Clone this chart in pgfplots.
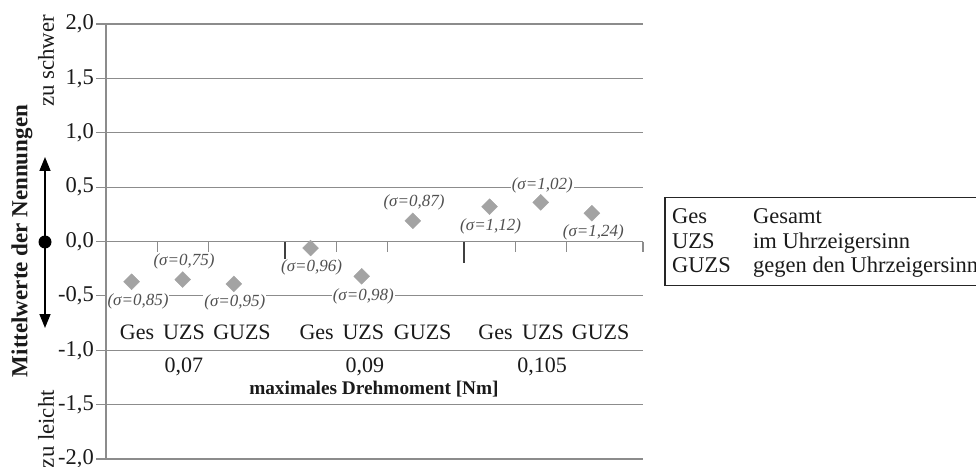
\documentclass[border=0pt]{standalone}
\usepackage{fontspec}
\setmainfont{Liberation Serif}
\usepackage{pgfplots}
\pgfplotsset{compat=1.18}
\usetikzlibrary{arrows.meta}
\definecolor{gridgray}{HTML}{8C8C8C}
\definecolor{markgray}{HTML}{A3A3A3}
\definecolor{siggray}{HTML}{505050}
\definecolor{txt}{HTML}{1A1A1A}
\pgfplotstableread{
x y
0.5 -0.37
1.5 -0.35
2.5 -0.39
4.0 -0.06
5.0 -0.32
6.0 0.19
7.5 0.32
8.5 0.36
9.5 0.26
}\means
\begin{document}
\begin{tikzpicture}
\begin{scope}
\clip (0,0) rectangle (976pt,466pt);
\begin{axis}[
  at={(106pt,7pt)}, anchor=south west,
  x=51.14pt, y=108.75pt,
  xmin=0, xmax=10.5, ymin=-2, ymax=2,
  axis x line=none, axis y line*=left,
  y axis line style={gridgray, line width=1.2pt, -},
  ytick={-2,-1.5,-1,-0.5,0,0.5,1,1.5,2},
  yticklabels={{-2,0},{-1,5},{-1,0},{-0,5},{0,0},{0,5},{1,0},{1,5},{2,0}},
  ymajorgrids, grid style={gridgray, line width=1.2pt},
  tick align=outside, major tick length=10pt,
  ytick style={gridgray, line width=1.2pt},
  yticklabel style={font=\fontsize{22.5}{26}\selectfont, text=txt, inner sep=2pt},
  clip=false,
]
\addplot[only marks, mark=square*, mark size=5.6pt, mark options={rotate=45, fill=markgray, draw=markgray}] table[x=x,y=y] {\means};
% category ticks
\draw[gridgray, line width=1.2pt] (axis cs:1,0) -- (axis cs:1,-0.1);
\draw[gridgray, line width=1.2pt] (axis cs:2,0) -- (axis cs:2,-0.1);
\draw[gridgray, line width=1.2pt] (axis cs:4.5,0) -- (axis cs:4.5,-0.1);
\draw[gridgray, line width=1.2pt] (axis cs:5.5,0) -- (axis cs:5.5,-0.1);
\draw[gridgray, line width=1.2pt] (axis cs:8,0) -- (axis cs:8,-0.1);
\draw[gridgray, line width=1.2pt] (axis cs:9,0) -- (axis cs:9,-0.1);
\draw[gridgray, line width=1.2pt] (axis cs:10.5,0) -- (axis cs:10.5,-0.1);
\draw[black!75, line width=1.6pt] (axis cs:3.5,0) -- (axis cs:3.5,-0.2);
\draw[black!75, line width=1.6pt] (axis cs:7,0) -- (axis cs:7,-0.2);
% sigma labels
\tikzset{sig/.style={fill=white, inner xsep=1pt, inner ysep=1pt, text=siggray, font=\itshape\fontsize{17}{20}\selectfont}}
\node[sig] at (axis cs:0.626,-0.552) {(σ=0,85)};
\node[sig] at (axis cs:1.525,-0.184) {(σ=0,75)};
\node[sig] at (axis cs:2.52,-0.561) {(σ=0,95)};
\node[sig] at (axis cs:4.02,-0.237) {(σ=0,96)};
\node[sig] at (axis cs:5.031,-0.503) {(σ=0,98)};
\node[sig] at (axis cs:6.022,0.356) {(σ=0,87)};
\node[sig] at (axis cs:7.522,0.135) {(σ=1,12)};
\node[sig] at (axis cs:8.531,0.517) {(σ=1,02)};
\node[sig] at (axis cs:9.529,0.085) {(σ=1,24)};
% category labels
\tikzset{cat/.style={anchor=base, inner sep=0pt, text=txt, font=\fontsize{22}{26}\selectfont}}
\node[cat] at (axis cs:0.606,-0.905) {Ges};
\node[cat] at (axis cs:1.525,-0.905) {UZS};
\node[cat] at (axis cs:2.659,-0.905) {GUZS};
\node[cat] at (axis cs:4.12,-0.905) {Ges};
\node[cat] at (axis cs:5.031,-0.905) {UZS};
\node[cat] at (axis cs:6.193,-0.905) {GUZS};
\node[cat] at (axis cs:7.617,-0.905) {Ges};
\node[cat] at (axis cs:8.545,-0.905) {UZS};
\node[cat] at (axis cs:9.673,-0.905) {GUZS};
\node[cat] at (axis cs:1.525,-1.205) {0,07};
\node[cat] at (axis cs:5.06,-1.205) {0,09};
\node[cat] at (axis cs:8.526,-1.205) {0,105};
\node[cat, font=\bfseries\fontsize{19.3}{23}\selectfont] at (axis cs:5.24,-1.41) {maximales Drehmoment [Nm]};
\end{axis}
% y label and side annotations
\node[rotate=90, text=txt, font=\bfseries\fontsize{23}{27}\selectfont] at (22pt,225pt) {Mittelwerte der Nennungen};
\node[rotate=90, anchor=east, inner sep=0pt, text=txt, font=\fontsize{22.8}{26}\selectfont] at (46pt,451pt) {zu schwer};
\node[rotate=90, anchor=east, inner sep=0pt, text=txt, font=\fontsize{22.8}{26}\selectfont] at (46pt,76pt) {zu leicht};
\draw[line width=1.5pt, {Triangle[length=14pt,width=11pt]}-{Triangle[length=14pt,width=11pt]}] (45pt,138pt) -- (45pt,309pt);
\fill (45pt,224pt) circle (6.5pt);
% legend box
\draw[line width=1.8pt, black!85] (665pt,180.5pt) rectangle (1100pt,268.5pt);
\tikzset{leg/.style={anchor=base west, inner sep=0pt, text=txt, font=\fontsize{22.5}{26}\selectfont}}
\node[leg] at (672pt,242pt) {Ges};
\node[leg] at (753pt,242pt) {Gesamt};
\node[leg] at (672pt,217pt) {UZS};
\node[leg] at (753pt,217pt) {im Uhrzeigersinn};
\node[leg] at (672pt,193pt) {GUZS};
\node[leg] at (753pt,193pt) {gegen den Uhrzeigersinn};
\end{scope}
\pgfresetboundingbox
\path[use as bounding box] (0pt,0pt) rectangle (976pt,466pt);
\end{tikzpicture}
\end{document}
